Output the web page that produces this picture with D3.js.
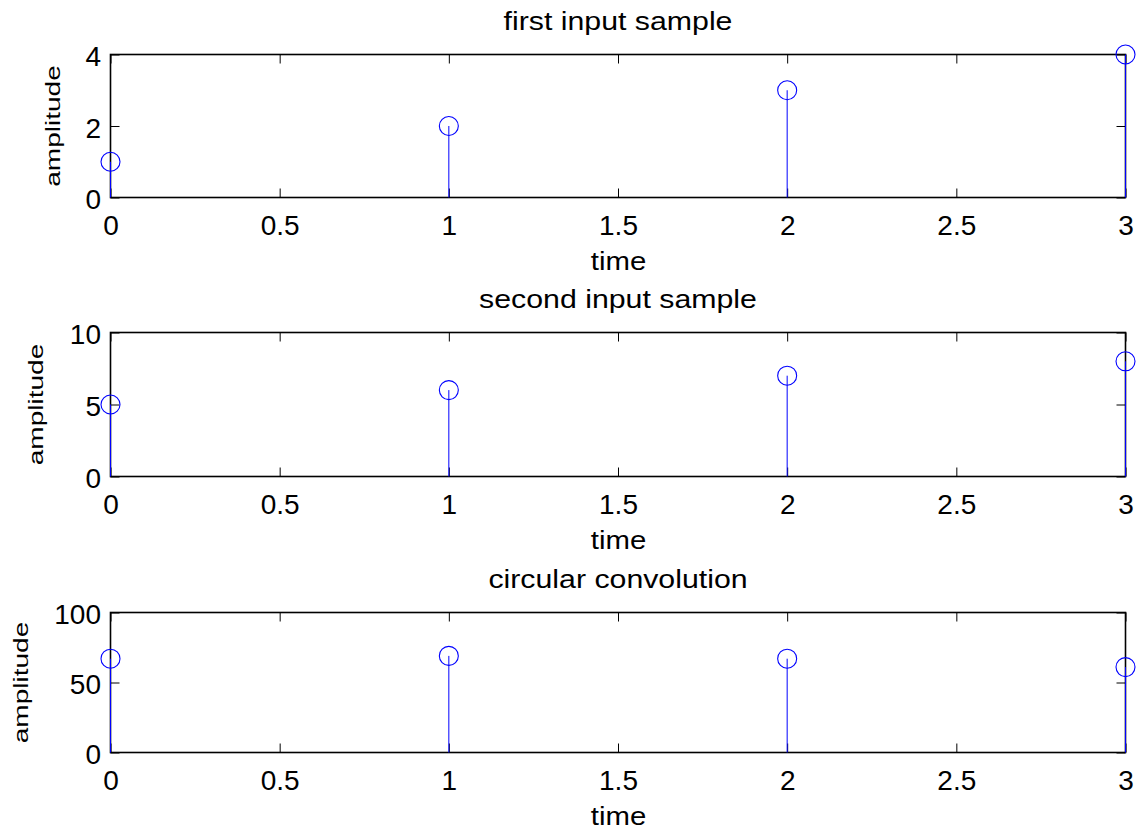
<!DOCTYPE html>
<html>
<head>
<meta charset="utf-8">
<script src="https://cdn.jsdelivr.net/npm/d3@7"></script>
<style>
  html, body { margin: 0; padding: 0; background: #fff; }
  svg { display: block; font-family: "Liberation Sans", Arial, Helvetica, sans-serif; }
</style>
</head>
<body>
<svg id="chart" width="1143" height="833"></svg>
<script>
// Sample index shared by all three stem plots
const timeIndex = [0, 1, 2, 3];
// First input sequence
const firstInput = [1, 2, 3, 4];
// Second input sequence
const secondInput = [5, 6, 7, 8];
// Circular convolution result
const circularConv = [67, 69, 67, 61];

const xTicks = [0, 0.5, 1, 1.5, 2, 2.5, 3];
const panelTitles = ["first input sample", "second input sample", "circular convolution"];
const yDomains = [[0, 4], [0, 10], [0, 100]];
const yTickValues = [[0, 2, 4], [0, 5, 10], [0, 50, 100]];

const panels = [
  { title: panelTitles[0], values: firstInput,   yDomain: yDomains[0], yTicks: yTickValues[0], top: 54.5,  bottom: 197.5, ylabX: 60 },
  { title: panelTitles[1], values: secondInput,  yDomain: yDomains[1], yTicks: yTickValues[1], top: 332.5, bottom: 476.5, ylabX: 42.5 },
  { title: panelTitles[2], values: circularConv, yDomain: yDomains[2], yTicks: yTickValues[2], top: 612.5, bottom: 752.5, ylabX: 27.5 }
];

const left = 110.5, right = 1125.5;
const tick = 9;
const stemColor = "#0000ff";
const svg = d3.select("#chart");

const fmt = d => d3.format("~g")(d);

panels.forEach(p => {
  const x = d3.scaleLinear().domain([0, 3]).range([left, right]);
  const y = d3.scaleLinear().domain(p.yDomain).range([p.bottom, p.top]);
  const g = svg.append("g");

  // bottom axis with labels, ticks pointing inward
  const bx = g.append("g").attr("transform", `translate(0,${p.bottom})`)
    .call(d3.axisBottom(x).tickValues(xTicks).tickFormat(fmt).tickSize(-tick).tickSizeOuter(0).tickPadding(17.5));
  // top mirror ticks
  const tx = g.append("g").attr("transform", `translate(0,${p.top})`)
    .call(d3.axisTop(x).tickValues(xTicks).tickFormat("").tickSize(-tick).tickSizeOuter(0));
  // left axis with labels
  const ly = g.append("g").attr("transform", `translate(${left},0)`)
    .call(d3.axisLeft(y).tickValues(p.yTicks).tickFormat(fmt).tickSize(-tick).tickSizeOuter(0).tickPadding(9.5));
  // right mirror ticks
  const ry = g.append("g").attr("transform", `translate(${right},0)`)
    .call(d3.axisRight(y).tickValues(p.yTicks).tickFormat("").tickSize(-tick).tickSizeOuter(0));

  [bx, tx, ly, ry].forEach(a => {
    a.select(".domain").remove();
    a.selectAll(".tick line").attr("stroke", "#000").attr("stroke-width", 1);
    a.selectAll(".tick text").attr("fill", "#000").attr("font-size", 28)
      .attr("font-family", "'Liberation Sans', Arial, sans-serif");
  });
  ly.selectAll(".tick text").attr("dy", "0.4em");

  // axes box
  g.append("rect")
    .attr("x", left).attr("y", p.top)
    .attr("width", right - left).attr("height", p.bottom - p.top)
    .attr("fill", "none").attr("stroke", "#000").attr("stroke-width", 1.6);

  // stems
  g.selectAll("line.stem").data(p.values).enter().append("line")
    .attr("class", "stem")
    .attr("x1", (d, i) => x(timeIndex[i])).attr("x2", (d, i) => x(timeIndex[i]))
    .attr("y1", y(0)).attr("y2", d => y(d))
    .attr("stroke", stemColor).attr("stroke-width", 1);

  // stem heads
  g.selectAll("circle.head").data(p.values).enter().append("circle")
    .attr("class", "head")
    .attr("cx", (d, i) => x(timeIndex[i])).attr("cy", d => y(d))
    .attr("r", 9.5)
    .attr("fill", "none").attr("stroke", stemColor).attr("stroke-width", 1.1);

  const cx = (left + right) / 2;
  // title
  g.append("text")
    .attr("transform", `translate(${cx},${p.top - 24.5}) scale(1.165,1)`)
    .attr("text-anchor", "middle").attr("font-size", 26).attr("fill", "#000")
    .text(p.title);
  // x label
  g.append("text")
    .attr("transform", `translate(${cx + 0.5},${p.bottom + 72.5}) scale(1.13,1)`)
    .attr("text-anchor", "middle").attr("font-size", 26).attr("fill", "#000")
    .text("time");
  // y label
  g.append("text")
    .attr("transform", `translate(${p.ylabX},${(p.top + p.bottom) / 2}) rotate(-90) scale(1.44,1)`)
    .attr("text-anchor", "middle").attr("font-size", 19.5).attr("fill", "#000")
    .text("amplitude");
});
</script>
</body>
</html>
